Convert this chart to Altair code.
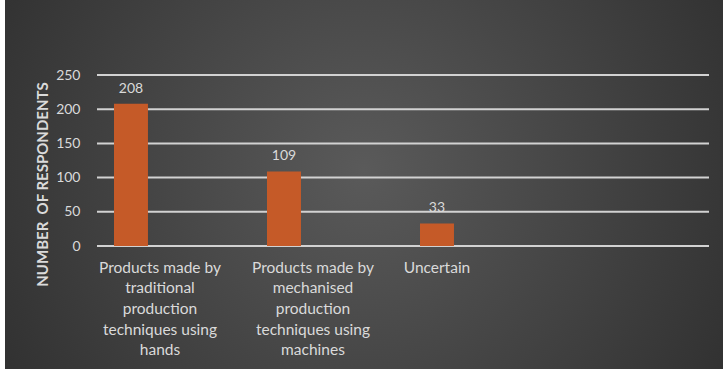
import altair as alt
import pandas as pd

# Survey answers: which kind of product respondents prefer
categories = [
    "Products made by\ntraditional\nproduction\ntechniques using\nhands",
    "Products made by\nmechanised\nproduction\ntechniques using\nmachines",
    "Uncertain",
]
respondents = [208, 109, 33]
y_ticks = [0, 50, 100, 150, 200, 250]

df = pd.DataFrame({"category": categories, "respondents": respondents})
ticks_df = pd.DataFrame({"respondents": y_ticks})

FONT = "Lato"
TEXT = "#dadada"
BAR = "#c55a28"
PLOT_W, PLOT_H = 612, 171
PAD = {"left": 97, "top": 75, "right": 14, "bottom": 128}

y_scale = alt.Scale(domain=[0, 250], nice=False)

x_enc = alt.X(
    "category:N",
    sort=categories,
    scale=alt.Scale(paddingInner=0.778, paddingOuter=0.889, align=0.0625),
    axis=alt.Axis(
        title=None,
        labelExpr="split(datum.label, '\\n')",
        labelAngle=0,
        labelFont=FONT,
        labelFontSize=15.5,
        labelColor=TEXT,
        labelLineHeight=20.7,
        labelPadding=14,
        labelBaseline="top",
        labelOffset={"condition": {"test": "datum.value === 'Uncertain'", "value": 0}, "value": 29},
        labelLimit=250,
        ticks=False,
        domain=False,
        grid=False,
        zindex=1,
    ),
)

y_enc = alt.Y(
    "respondents:Q",
    scale=y_scale,
    axis=alt.Axis(
        title="NUMBER\u00a0 OF RESPONDENTS",
        values=y_ticks,
        titleFont=FONT,
        titleFontSize=15,
        titleFontWeight="bold",
        titleColor=TEXT,
        titleX=-55,
        titleY=109,
        titleBaseline="middle",
        titleAngle=270,
        labelFont=FONT,
        labelFontSize=14,
        labelColor=TEXT,
        labelPadding=17,
        labelOverlap=False,
        ticks=False,
        domain=False,
        grid=False,
        zindex=1,
    ),
)

# Dark radial backdrop behind the whole chart
backdrop = alt.Chart(alt.Data(values=[{}])).mark_rect(
    fill={
        "gradient": "radial",
        "x1": 0.5, "y1": 0.48, "r1": 0,
        "x2": 0.5, "y2": 0.48, "r2": 0.72,
        "stops": [
            {"offset": 0, "color": "#5a5a5a"},
            {"offset": 1, "color": "#272727"},
        ],
    }
).encode(
    x=alt.value(-PAD["left"] + 5),
    x2=alt.value(PLOT_W + PAD["right"]),
    y=alt.value(-PAD["top"]),
    y2=alt.value(PLOT_H + PAD["bottom"] - 5),
)

# Horizontal gridlines, drawn as rules so they sit above the backdrop
grid = alt.Chart(ticks_df).mark_rule(color="#d2d2d2", strokeWidth=2).encode(y=y_enc)

bars = alt.Chart(df).mark_bar(color=BAR).encode(x=x_enc, y=y_enc)

values = alt.Chart(df).mark_text(
    font=FONT, fontSize=14, color=TEXT, baseline="alphabetic", dy=-11
).encode(x=x_enc, y=y_enc, text="respondents:Q")

chart = (
    alt.layer(backdrop, grid, bars, values)
    .properties(
        width=PLOT_W,
        height=PLOT_H,
        autosize=alt.AutoSizeParams(type="none"),
        padding=PAD,
        background="#ffffff",
    )
    .configure_view(stroke=None)
)

chart.save("out.html", embed_options={"renderer": "svg", "actions": False})
